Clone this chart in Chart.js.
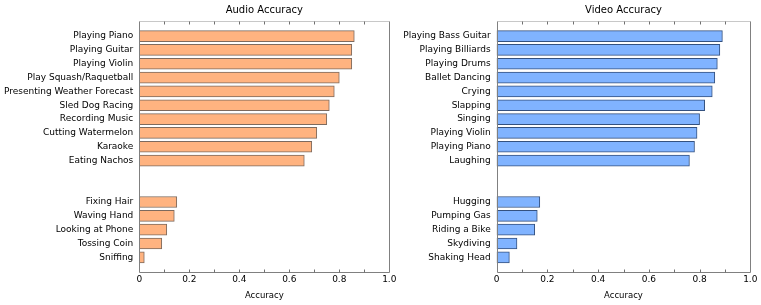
<!DOCTYPE html>
<html>
<head>
<meta charset="utf-8">
<script src="https://cdn.jsdelivr.net/npm/chart.js@4/dist/chart.umd.min.js"></script>
<style>
  html, body { margin: 0; padding: 0; background: #fff; }
  body { width: 761px; height: 305px; position: relative; overflow: hidden; }
  .panel { position: absolute; top: 0; height: 305px; }
  #audioWrap { left: 0; width: 400px; }
  #videoWrap { left: 395px; width: 366px; }
</style>
</head>
<body>
<div class="panel" id="audioWrap"><canvas id="audioChart"></canvas></div>
<div class="panel" id="videoWrap"><canvas id="videoChart"></canvas></div>
<script>
// '' entries are the empty spacer rows between the two groups
const audioCategories = ['Playing Piano', 'Playing Guitar', 'Playing Violin', 'Play Squash/Raquetball',
  'Presenting Weather Forecast', 'Sled Dog Racing', 'Recording Music', 'Cutting Watermelon',
  'Karaoke', 'Eating Nachos', '', '', 'Fixing Hair', 'Waving Hand', 'Looking at Phone',
  'Tossing Coin', 'Sniffing'];
const audioValues = [0.86, 0.85, 0.85, 0.80, 0.78, 0.76, 0.75, 0.71, 0.69, 0.66,
  null, null, 0.15, 0.14, 0.11, 0.09, 0.02];

const videoCategories = ['Playing Bass Guitar', 'Playing Billiards', 'Playing Drums', 'Ballet Dancing',
  'Crying', 'Slapping', 'Singing', 'Playing Violin', 'Playing Piano', 'Laughing', '', '',
  'Hugging', 'Pumping Gas', 'Riding a Bike', 'Skydiving', 'Shaking Head'];
const videoValues = [0.89, 0.88, 0.87, 0.86, 0.85, 0.82, 0.80, 0.79, 0.78, 0.76,
  null, null, 0.17, 0.16, 0.15, 0.08, 0.05];

const xTickLabels = ['0', '0.2', '0.4', '0.6', '0.8', '1.0'];

const FONT = 'DejaVu Sans, Verdana, sans-serif';

// box round the plot with small inward ticks every 0.1, top and bottom
const framePlugin = {
  id: 'frame',
  afterDatasetsDraw(chart) {
    const { ctx, chartArea: a, scales } = chart;
    const l = Math.round(a.left) + 0.5, r = Math.round(a.right) + 0.5;
    const t = Math.round(a.top) + 0.5, b = Math.round(a.bottom) + 0.5;
    ctx.save();
    ctx.lineWidth = 1;
    ctx.strokeStyle = '#c8c8c8';
    ctx.beginPath(); ctx.moveTo(l, t); ctx.lineTo(r, t); ctx.stroke();
    ctx.strokeStyle = '#808080';
    ctx.beginPath();
    ctx.moveTo(l, t); ctx.lineTo(l, b); ctx.lineTo(r, b); ctx.lineTo(r, t);
    ctx.stroke();
    ctx.strokeStyle = '#707070';
    ctx.beginPath();
    for (let i = 1; i < 10; i++) {
      const x = Math.round(scales.x.getPixelForValue(i / 10)) + 0.5;
      ctx.moveTo(x, t); ctx.lineTo(x, t + 3);
      ctx.moveTo(x, b); ctx.lineTo(x, b - 3);
    }
    ctx.stroke();
    ctx.restore();
  }
};

function makeChart(id, title, categories, values, fill, border, axisWidth) {
  const data = [];
  values.forEach((v, i) => { if (v !== null) data.push({ x: v, y: i }); });
  return new Chart(document.getElementById(id), {
    type: 'bar',
    data: {
      datasets: [{
        data: data,
        backgroundColor: fill,
        borderColor: border,
        borderWidth: 1,
        borderSkipped: false,
        barThickness: 11
      }]
    },
    options: {
      indexAxis: 'y',
      responsive: true,
      maintainAspectRatio: false,
      animation: false,
      layout: { padding: { left: 0, right: 10.7, top: 0, bottom: 0 } },
      plugins: {
        legend: { display: false },
        tooltip: { enabled: false },
        title: { display: false }
      },
      scales: {
        x: {
          type: 'linear',
          min: 0,
          max: 1,
          grid: { display: false, drawTicks: false },
          border: { display: false },
          ticks: {
            stepSize: 0.2,
            padding: 3,
            color: '#000',
            font: { family: FONT, size: 9 },
            callback: (v) => xTickLabels[Math.round(v * 5)]
          },
          title: {
            display: true,
            text: 'Accuracy',
            color: '#000',
            font: { family: FONT, size: 8.5 },
            padding: { top: 2, bottom: 4 }
          },
          afterFit: (s) => { s.height = 33.3; }
        },
        // top axis only carries the panel title, centred over the plot
        top: {
          type: 'linear',
          position: 'top',
          min: 0,
          max: 1,
          grid: { display: false, drawTicks: false },
          border: { display: false },
          ticks: { display: false },
          title: {
            display: true,
            text: title,
            color: '#000',
            font: { family: FONT, size: 10 },
            padding: { top: 4, bottom: 2 }
          },
          afterFit: (s) => { s.height = 20.5; }
        },
        y: {
          type: 'linear',
          reverse: true,
          offset: false,
          min: -1.13,
          max: 17.04,
          grid: { display: false, drawTicks: false },
          border: { display: false },
          ticks: {
            stepSize: 1,
            autoSkip: false,
            padding: 6,
            color: '#000',
            font: { family: FONT, size: 9 },
            callback: (v) => (Number.isInteger(v) && categories[v]) ? categories[v] : ''
          },
          afterFit: (s) => { s.width = axisWidth; }
        }
      }
    },
    plugins: [framePlugin]
  });
}

makeChart('audioChart', 'Audio Accuracy', audioCategories, audioValues, '#ffb380', '#7d6a5e', 139.3);
makeChart('videoChart', 'Video Accuracy', videoCategories, videoValues, '#80b3ff', '#34517f', 101.7);
</script>
</body>
</html>
